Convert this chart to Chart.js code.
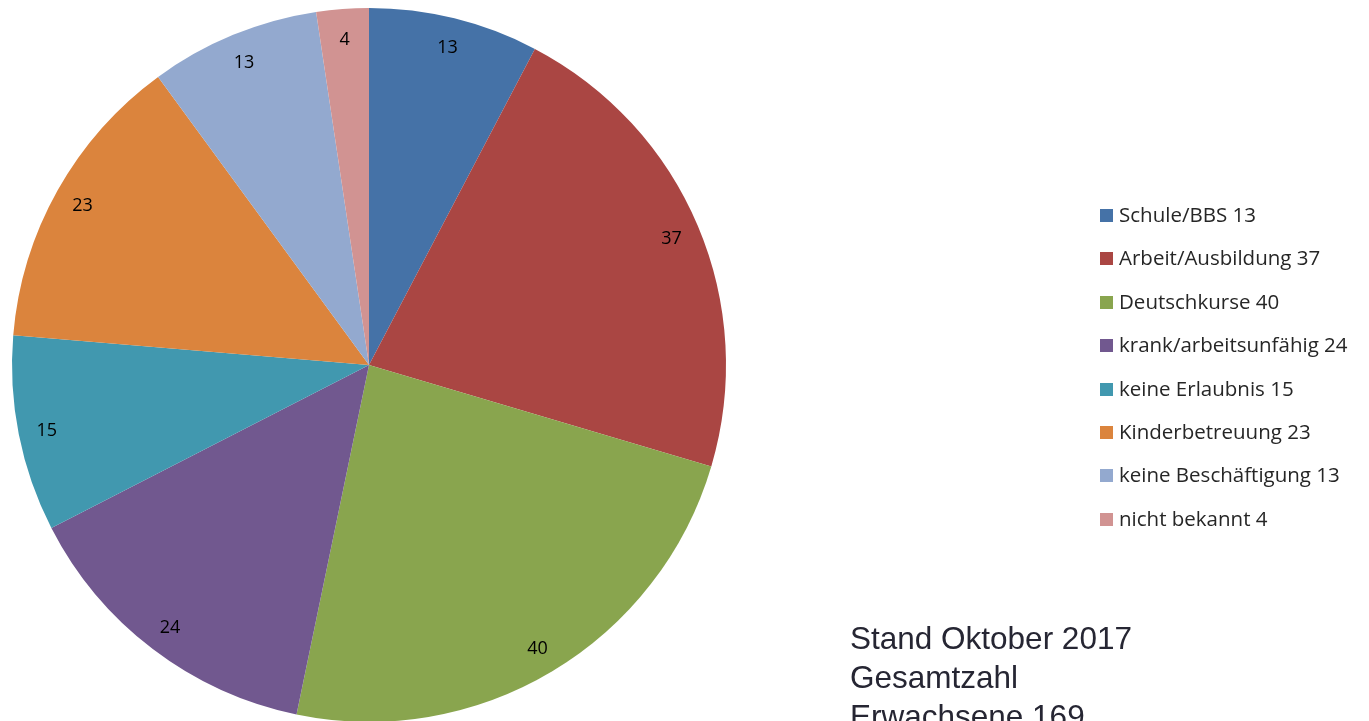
<!DOCTYPE html>
<html>
<head>
<meta charset="utf-8">
<script src="https://cdn.jsdelivr.net/npm/chart.js@4/dist/chart.umd.min.js"></script>
<style>
    html, body { margin: 0; padding: 0; background: #fff; overflow: hidden; width: 1369px; height: 721px; }
    #wrap { position: absolute; left: 0; top: 0; width: 1369px; height: 730px; }
    #legend { position: absolute; left: 1100px; top: 199px; font-family: "Open Sans", sans-serif; font-size: 20.5px; color: #262626; }
    #legend div { height: 43.4px; line-height: 30px; white-space: nowrap; }
    #legend span.box { display: inline-block; width: 13px; height: 13px; margin-right: 6px; vertical-align: 0px; }
    #note { position: absolute; left: 850px; top: 619px; font-family: "Liberation Sans", Arial, sans-serif; font-size: 31.5px; line-height: 39px; color: #262633; white-space: nowrap; }
</style>
</head>
<body>
<div id="wrap"><canvas id="pieChart"></canvas></div>
<div id="legend"></div>
<div id="note">Stand Oktober 2017<br>Gesamtzahl<br>Erwachsene 169</div>
<script>
    "use strict";

    const categories = ['Schule/BBS', 'Arbeit/Ausbildung', 'Deutschkurse', 'krank/arbeitsunfähig', 'keine Erlaubnis', 'Kinderbetreuung', 'keine Beschäftigung', 'nicht bekannt'];
    const counts = [13, 37, 40, 24, 15, 23, 13, 4];
    const colors = ['#4572A7', '#AA4643', '#89A54E', '#71588F', '#4198AF', '#DB843D', '#93A9CF', '#D19392'];

    // Value labels drawn inside each slice, near the rim
    const sliceLabels = {
        id: 'sliceLabels',
        afterDatasetsDraw(chart) {
            const ctx = chart.ctx;
            const meta = chart.getDatasetMeta(0);
            ctx.save();
            ctx.font = '18px "Open Sans", sans-serif';
            ctx.fillStyle = '#000';
            ctx.textAlign = 'center';
            ctx.textBaseline = 'middle';
            meta.data.forEach(function(arc, i) {
                const p = arc.getProps(['x', 'y', 'startAngle', 'endAngle', 'outerRadius'], true);
                const mid = (p.startAngle + p.endAngle) / 2;
                const r = p.outerRadius * 0.92;
                ctx.fillText(String(counts[i]), p.x + Math.cos(mid) * r, p.y + Math.sin(mid) * r + 2);
            });
            ctx.restore();
        }
    };

    const pieChart = new Chart(document.getElementById('pieChart').getContext('2d'), {
        type: 'pie',
        data: {
            labels: categories,
            datasets: [{
                data: counts,
                backgroundColor: colors,
                borderWidth: 0
            }]
        },
        options: {
            responsive: true,
            maintainAspectRatio: false,
            animation: false,
            layout: {
                padding: { left: 12, top: 8, bottom: 8, right: 643 }
            },
            plugins: {
                legend: { display: false },
                tooltip: { enabled: false }
            }
        },
        plugins: [sliceLabels]
    });

    // Legend on the right, built from the same arrays
    const legend = document.getElementById('legend');
    categories.forEach(function(name, i) {
        const row = document.createElement('div');
        const box = document.createElement('span');
        box.className = 'box';
        box.style.background = colors[i];
        row.appendChild(box);
        row.appendChild(document.createTextNode(name + ' ' + counts[i]));
        legend.appendChild(row);
    });
</script>
</body>
</html>
